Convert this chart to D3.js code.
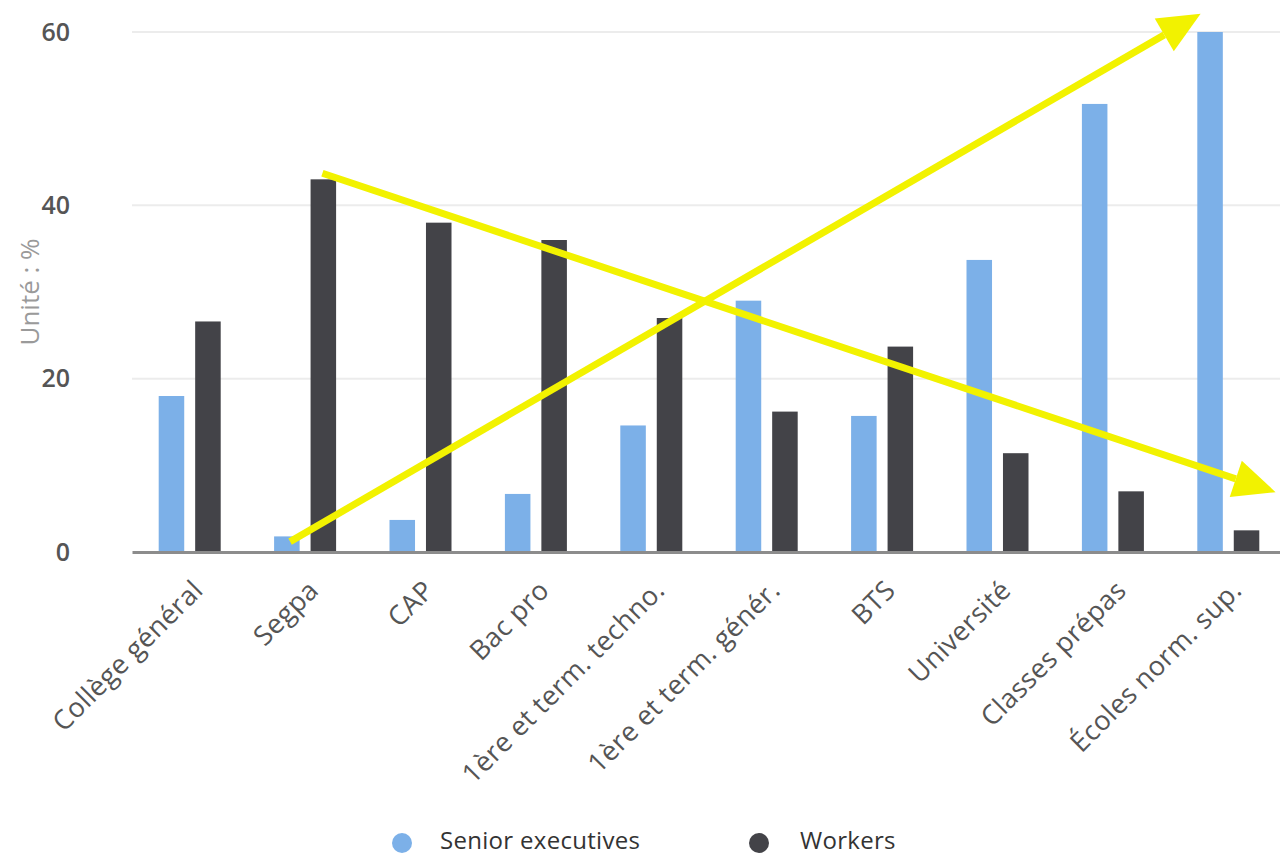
<!DOCTYPE html>
<html>
<head>
<meta charset="utf-8">
<script src="https://cdn.jsdelivr.net/npm/d3@7/dist/d3.min.js"></script>
<style>
  html, body { margin: 0; padding: 0; background: #ffffff; }
  svg { display: block; font-family: "Open Sans", "DejaVu Sans", sans-serif; }
</style>
</head>
<body>
<svg id="chart" width="1280" height="859"></svg>
<script>
// Share of pupils by parents' occupation, per track (%)
const categories = [
  "Collège général", "Segpa", "CAP", "Bac pro", "1ère et term. techno.",
  "1ère et term. génér.", "BTS", "Université", "Classes prépas", "Écoles norm. sup."
];
const seniorExecutives = [18.0, 1.8, 3.7, 6.7, 14.6, 29.0, 15.7, 33.7, 51.7, 60.0];
const workers = [26.6, 43.0, 38.0, 36.0, 27.0, 16.2, 23.7, 11.4, 7.0, 2.5];
const seriesNames = ["Senior executives", "Workers"];
const seriesColors = ["#7cb0e8", "#434348"];
const yTicks = [0, 20, 40, 60];
const yTitle = "Unité : %";

// Trend arrows, in (category position, value) units
const trendUp = [{ pos: 0.87, value: 1.2 }, { pos: 8.76, value: 62.1 }];
const trendDown = [{ pos: 1.15, value: 43.7 }, { pos: 9.41, value: 6.9 }];

const svg = d3.select("#chart");
const plot = { left: 132, right: 1286, top: 32, bottom: 552 };

const x = d3.scaleBand().domain(categories).range([plot.left, plot.right]).padding(0);
const xInner = d3.scaleBand().domain(seriesNames).range([-31, 31]).paddingInner(0.3);
const y = d3.scaleLinear().domain([0, 60]).range([plot.bottom, plot.top]);
const center = c => x(c) + x.bandwidth() / 2;
const posScale = d3.scaleLinear()
  .domain([0, categories.length - 1])
  .range([center(categories[0]), center(categories[categories.length - 1])]);

// Gridlines
svg.append("g")
  .selectAll("line")
  .data(yTicks.filter(t => t > 0))
  .join("line")
  .attr("x1", plot.left).attr("x2", 1280)
  .attr("y1", d => y(d)).attr("y2", d => y(d))
  .attr("stroke", "#ececec").attr("stroke-width", 2);

// Y axis labels
const yAxis = svg.append("g")
  .attr("transform", `translate(${plot.left - 62},0)`)
  .call(d3.axisLeft(y).tickValues(yTicks).tickSize(0).tickPadding(0));
yAxis.select(".domain").remove();
yAxis.selectAll("text")
  .attr("font-size", 25).attr("fill", "#555").attr("font-weight", 600)
  .attr("font-family", "'Open Sans', sans-serif");

// Y axis title
svg.append("text")
  .attr("transform", `translate(39,${(y(20) + y(40)) / 2}) rotate(-90)`)
  .attr("text-anchor", "middle")
  .attr("font-size", 26).attr("fill", "#9a9a9a")
  .text(yTitle);

// Bars
const data = categories.map((c, i) => ({ cat: c, values: [seniorExecutives[i], workers[i]] }));
const groups = svg.append("g").selectAll("g")
  .data(data).join("g")
  .attr("transform", d => `translate(${center(d.cat)},0)`);
groups.selectAll("rect")
  .data(d => d.values.map((v, k) => ({ name: seriesNames[k], value: v, color: seriesColors[k] })))
  .join("rect")
  .attr("x", d => xInner(d.name))
  .attr("width", xInner.bandwidth())
  .attr("y", d => y(d.value))
  .attr("height", d => y(0) - y(d.value))
  .attr("fill", d => d.color);

// X axis baseline and labels
const xAxis = svg.append("g")
  .attr("transform", `translate(0,${plot.bottom})`)
  .call(d3.axisBottom(x).tickSize(0).tickPadding(0));
xAxis.select(".domain")
  .attr("stroke", "#8c8c8c").attr("stroke-width", 3);
xAxis.selectAll("text")
  .attr("font-size", 27).attr("fill", "#555")
  .attr("letter-spacing", 0.4)
  .attr("font-family", "'Open Sans', sans-serif")
  .attr("text-anchor", "end")
  .attr("dy", null).attr("y", null)
  .attr("transform", "translate(15,40) rotate(-45)");

// Legend
const legend = svg.append("g").attr("transform", "translate(0,841)");
const legendItems = [
  { name: seriesNames[0], color: seriesColors[0], cx: 402, tx: 440 },
  { name: seriesNames[1], color: seriesColors[1], cx: 759, tx: 800 }
];
legendItems.forEach(it => {
  legend.append("circle").attr("cx", it.cx).attr("cy", 2).attr("r", 10).attr("fill", it.color);
  legend.append("text").attr("x", it.tx).attr("y", 0).attr("dy", "0.35em")
    .attr("font-size", 24).attr("letter-spacing", 0.3).attr("fill", "#333").text(it.name);
});

// Trend arrows
const arrowColor = "#f2f200";
function drawArrow(pts) {
  const x0 = posScale(pts[0].pos), y0 = y(pts[0].value);
  const x1 = posScale(pts[1].pos), y1 = y(pts[1].value);
  const ang = Math.atan2(y1 - y0, x1 - x0);
  const headLen = 42, headHalf = 19;
  const bx = x1 - headLen * Math.cos(ang), by = y1 - headLen * Math.sin(ang);
  svg.append("line")
    .attr("x1", x0).attr("y1", y0).attr("x2", bx).attr("y2", by)
    .attr("stroke", arrowColor).attr("stroke-width", 7).attr("stroke-linecap", "butt");
  const nx = -Math.sin(ang), ny = Math.cos(ang);
  svg.append("path")
    .attr("d", `M${x1},${y1}L${bx + nx * headHalf},${by + ny * headHalf}L${bx - nx * headHalf},${by - ny * headHalf}Z`)
    .attr("fill", arrowColor);
}
drawArrow(trendUp);
drawArrow(trendDown);
</script>
</body>
</html>
